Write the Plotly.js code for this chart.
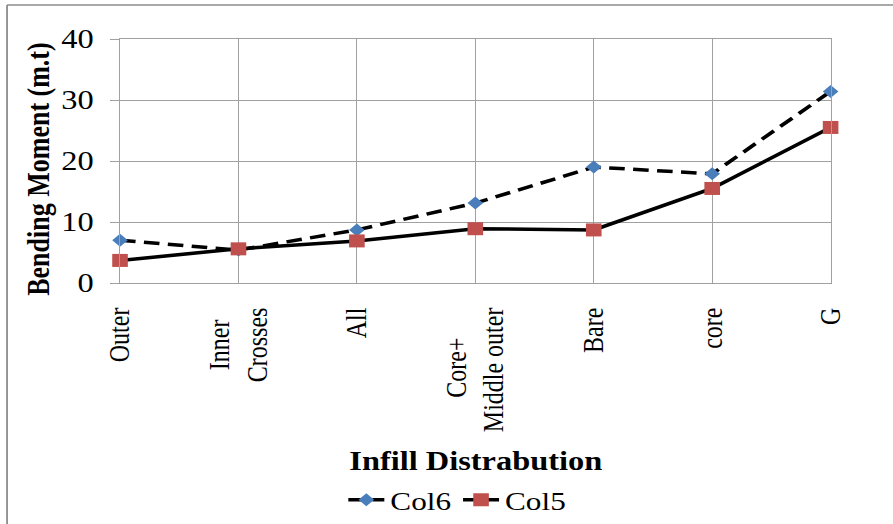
<!DOCTYPE html>
<html>
<head>
<meta charset="utf-8">
<script src="https://cdn.plot.ly/plotly-3.0.1.min.js"></script>
<style>
  html, body { margin: 0; padding: 0; background: #fff; overflow: hidden; }
  #wrap { width: 893px; height: 524px; overflow: hidden; position: relative; }
  #chart { width: 744px; height: 524px; transform: scaleX(1.2003); transform-origin: 0 0; }
</style>
</head>
<body>
<div id="wrap"><div id="chart"></div></div>
<script>
const NB = "\u00A0";
const categories = ["Outer", "Inner" + NB + NB, "All", "Core+" + NB.repeat(5), "Bare", "core", "G"];
const categoryLines2 = ["", "Crosses", "", "Middle outer", "", "", ""];
const col6 = [7.0, 5.4, 8.7, 13.1, 19.0, 17.9, 31.4];
const col5 = [3.7, 5.6, 6.9, 8.9, 8.7, 15.5, 25.5];
const yTicks = [0, 10, 20, 30, 40];

const xLabels = categories.map((c, i) => categoryLines2[i] ? c + "<br>" + categoryLines2[i] : c);

const serif = "Liberation Serif";

const traces = [
  {
    x: xLabels, y: col6, name: "Col6", type: "scatter", mode: "lines+markers",
    line: { color: "#000000", width: 3.5, dash: "13px,7px" },
    marker: { symbol: "diamond", size: 10, color: "#4A7EBB" },
    cliponaxis: false
  },
  {
    x: xLabels, y: col5, name: "Col5", type: "scatter", mode: "lines+markers",
    line: { color: "#000000", width: 3.5 },
    marker: { symbol: "square", size: 13, color: "#C0504D" },
    cliponaxis: false
  }
];

const layout = {
  width: 744, height: 524,
  margin: { l: 100, r: 51.5, t: 39, b: 241, autoexpand: false },
  paper_bgcolor: "#ffffff", plot_bgcolor: "#ffffff",
  font: { family: serif, color: "#000000" },
  showlegend: true,
  legend: {
    orientation: "h", x: 0.475, xanchor: "center", y: -0.889, yanchor: "middle",
    font: { family: serif, size: 26, color: "#000000" },
    itemwidth: 30, tracegroupgap: 0
  },
  xaxis: {
    type: "category", range: [0, 6], automargin: false,
    showgrid: true, gridcolor: "#a0a0a0", gridwidth: 1,
    showline: true, linecolor: "#a0a0a0", linewidth: 1, mirror: true,
    ticks: "", tickangle: -90, ticklabelstandoff: 14,
    tickfont: { family: serif, size: 24, color: "#000000" },
    zeroline: false
  },
  yaxis: {
    range: [0, 40], tickvals: yTicks, ticktext: yTicks.map(String), automargin: false,
    showgrid: true, gridcolor: "#a0a0a0", gridwidth: 1,
    showline: true, linecolor: "#a0a0a0", linewidth: 1, mirror: true,
    ticks: "outside", ticklen: 7.5, tickcolor: "#a0a0a0", tickwidth: 1,
    ticklabelstandoff: 8,
    tickfont: { family: serif, size: 27, color: "#000000" },
    zeroline: false
  },
  annotations: [
    {
      text: "<b>Infill Distrabution</b>", xref: "paper", yref: "paper",
      x: 0.5, y: -0.73, xanchor: "center", yanchor: "middle", showarrow: false,
      font: { family: serif, size: 27, color: "#000000" }
    },
    {
      text: "<b>Bending Moment (m.t)</b>", xref: "paper", yref: "paper",
      x: -0.1153, y: 0.467, xanchor: "center", yanchor: "middle", showarrow: false,
      textangle: -90,
      font: { family: serif, size: 26, color: "#000000" }
    }
  ],
  shapes: [
    {
      type: "line", xref: "paper", yref: "paper",
      x0: -0.159, x1: -0.159, y0: -1.2, y1: 1.139,
      line: { color: "#8c8c8c", width: 1.5 }
    },
    {
      type: "line", xref: "paper", yref: "paper",
      x0: -0.159, x1: 1.2, y0: 1.139, y1: 1.139,
      line: { color: "#8c8c8c", width: 1.5 }
    }
  ]
};

Plotly.newPlot("chart", traces, layout, { staticPlot: true, displayModeBar: false });
</script>
</body>
</html>
